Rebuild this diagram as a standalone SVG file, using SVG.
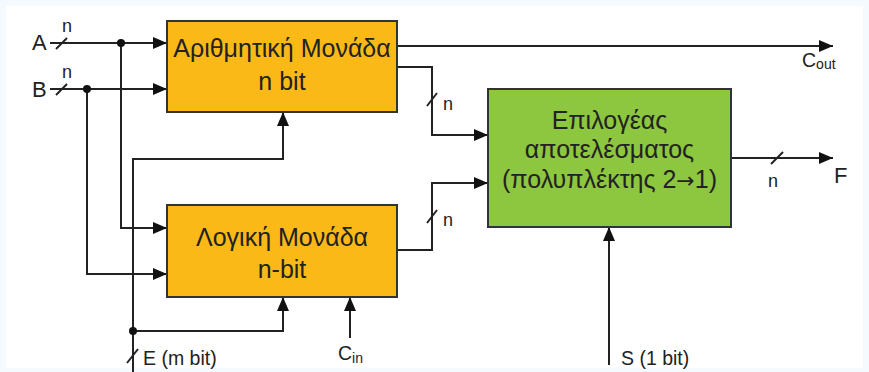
<svg xmlns="http://www.w3.org/2000/svg" width="869" height="372" viewBox="0 0 869 372">
<style>
.w{fill:none;stroke:#222;stroke-width:2}
.t{font-family:"Liberation Sans",Arial,sans-serif;fill:#222}
.big{font-size:25px}
.lt{font-size:22px}
.sm{font-size:18px}
.lb{font-size:19.5px}
.box{stroke:#333;stroke-width:2}
</style>
<defs>
<marker id="ar" viewBox="0 0 14 12" refX="14" refY="6" markerWidth="14" markerHeight="12" markerUnits="userSpaceOnUse" orient="auto">
<path d="M0,0 L14,6 L0,12 z" fill="#111"/>
</marker>
</defs>
<rect width="869" height="372" fill="#f4fafd"/>
<rect x="6" y="6" width="857" height="362" fill="#ffffff"/>
<g id="connectors">
<path class="w" d="M50,43 H167" marker-end="url(#ar)"/>
<path class="w" d="M50,89 H167" marker-end="url(#ar)"/>
<path class="w" d="M121,43 V228 H167" marker-end="url(#ar)"/>
<path class="w" d="M87,89 V274 H167" marker-end="url(#ar)"/>
<path class="w" d="M133,372 V159 H283 V112" marker-end="url(#ar)"/>
<path class="w" d="M133,331 H283 V297" marker-end="url(#ar)"/>
<path class="w" d="M350,338 V297" marker-end="url(#ar)"/>
<path class="w" d="M397,46 H833" marker-end="url(#ar)"/>
<path class="w" d="M397,67 H432 V135 H488" marker-end="url(#ar)"/>
<path class="w" d="M397,250 H432 V183 H488" marker-end="url(#ar)"/>
<path class="w" d="M731,158 H833" marker-end="url(#ar)"/>
<path class="w" d="M609,365 V227" marker-end="url(#ar)"/>
<circle cx="121" cy="43" r="4" fill="#111"/>
<circle cx="87" cy="89" r="4" fill="#111"/>
<circle cx="133" cy="331" r="4" fill="#111"/>
<g class="w">
<path d="M56,49 L67,38"/>
<path d="M56,95 L67,84"/>
<path d="M127,363 L138,349"/>
<path d="M427,106 L437,93"/>
<path d="M427,223 L437,210"/>
<path d="M771,164 L783,152"/>
</g>
</g>
<g id="labels">
<text class="t lt" x="32" y="50">A</text>
<text class="t lt" x="32" y="97">B</text>
<text class="t sm" x="62" y="32">n</text>
<text class="t sm" x="62" y="78">n</text>
<text class="t sm" x="443" y="110">n</text>
<text class="t sm" x="443" y="226">n</text>
<text class="t sm" x="768" y="187">n</text>
<text class="t lt" x="834" y="183">F</text>
<text class="t lb" x="802" y="67">C<tspan font-size="14" dy="2">out</tspan></text>
<text class="t lb" x="338" y="360">C<tspan font-size="14" dy="3">in</tspan></text>
<text class="t lb" x="143" y="365">E (m bit)</text>
<text class="t lb" x="621" y="365">S (1 bit)</text>
</g>
<g id="arith">
<rect class="box" x="167" y="21" width="230" height="91" fill="#fbb917"/>
<text class="t big" x="282" y="57" text-anchor="middle">Αριθμητική Μονάδα</text>
<text class="t big" x="282" y="90" text-anchor="middle">n bit</text>
</g>
<g id="logic">
<rect class="box" x="167" y="205" width="230" height="92" fill="#fbb917"/>
<text class="t big" x="282" y="246" text-anchor="middle">Λογική Μονάδα</text>
<text class="t big" x="282" y="278" text-anchor="middle">n-bit</text>
</g>
<g id="mux">
<rect class="box" x="488" y="89" width="243" height="138" fill="#8dc63f"/>
<text class="t big" x="609.5" y="129" text-anchor="middle">Επιλογέας</text>
<text class="t big" x="609.5" y="158" text-anchor="middle">αποτελέσματος</text>
<text class="t big" x="609.5" y="188" text-anchor="middle">(πολυπλέκτης 2<tspan font-family="DejaVu Sans" font-size="22">→</tspan>1)</text>
</g>
</svg>
